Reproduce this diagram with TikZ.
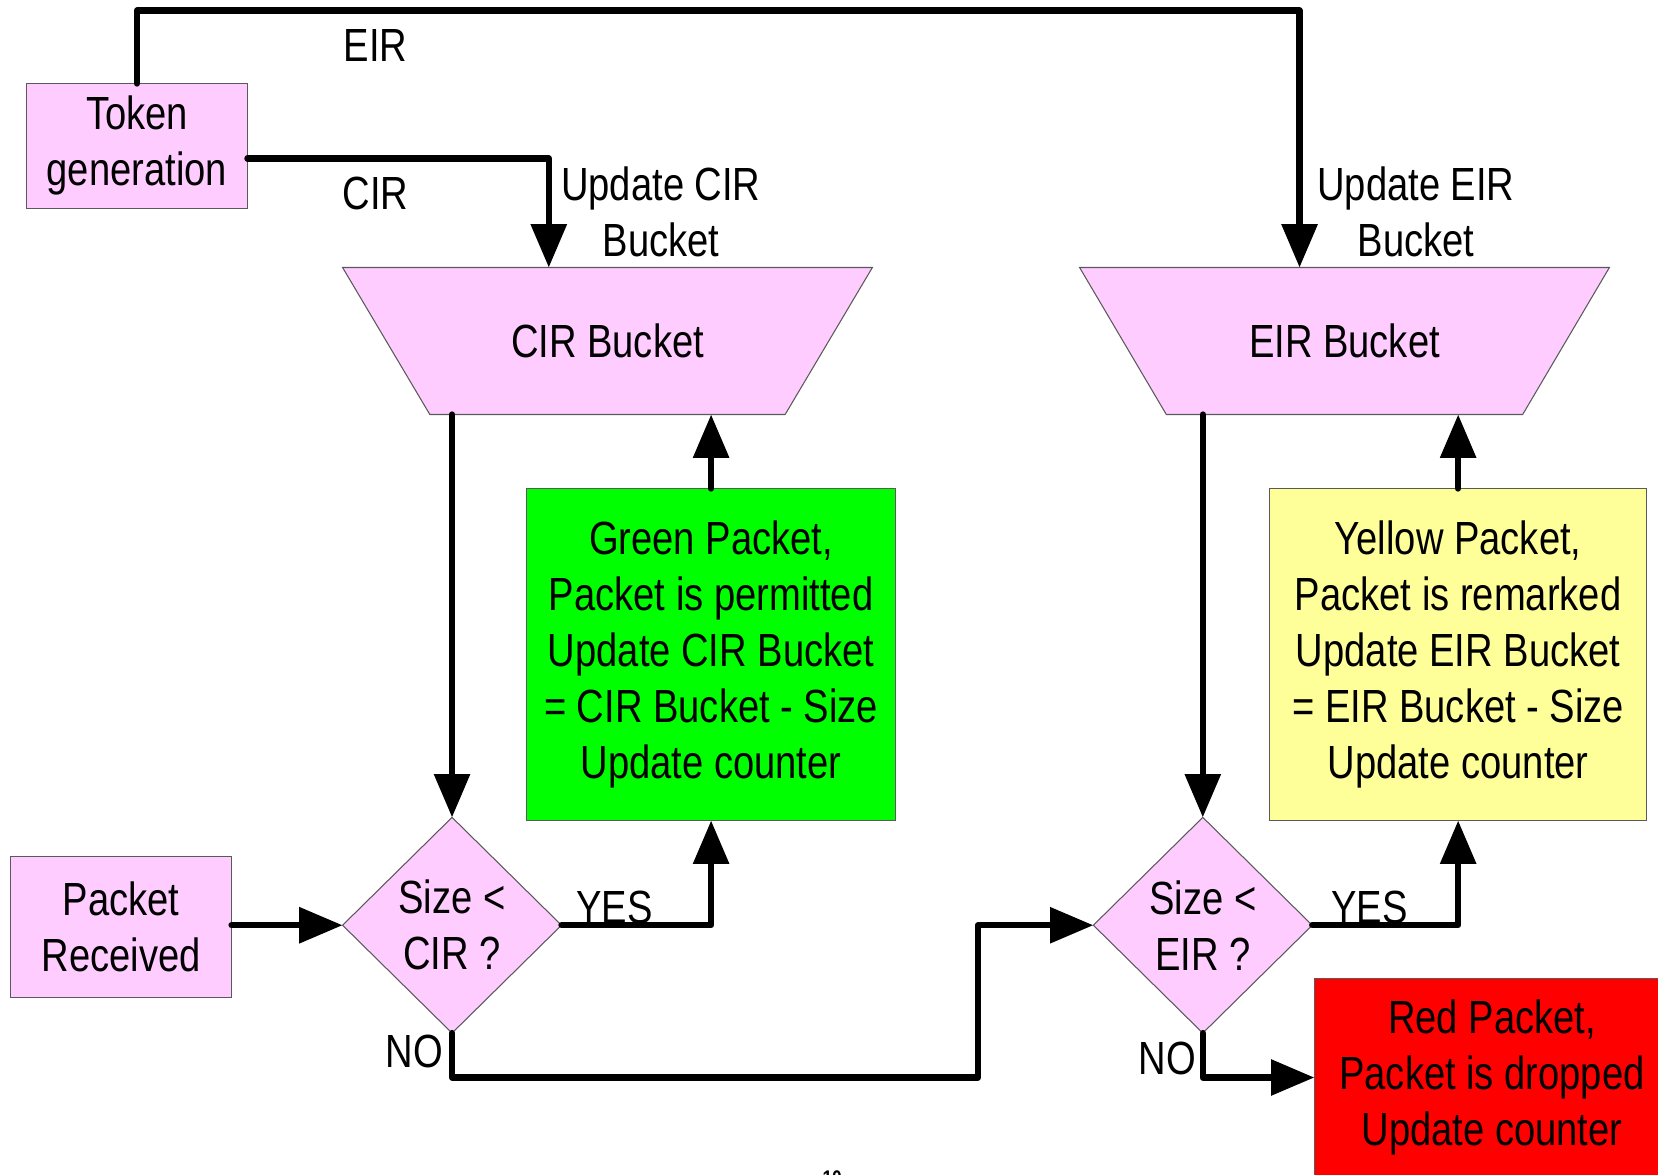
\documentclass[tikz,border=0pt]{standalone}
\usepackage{fontspec}
\setmainfont{Liberation Sans}[FakeStretch=0.82]
\usetikzlibrary{arrows.meta,calc,shapes.geometric}
\definecolor{pinkfill}{RGB}{255,204,255}
\definecolor{greenfill}{RGB}{0,255,0}
\definecolor{yellowfill}{RGB}{255,255,153}
\definecolor{redfill}{RGB}{255,0,0}
\definecolor{bordercol}{RGB}{90,90,90}
\begin{document}
\begin{tikzpicture}[x=1pt,y=-1pt,
  txt/.style={font=\fontsize{44}{53}\selectfont, align=center, inner sep=0pt},
  box/.style={draw=bordercol, line width=1pt, inner sep=0pt, outer sep=0pt, font=\fontsize{44}{53}\selectfont, align=center},
  shapebd/.style={draw=bordercol, line width=1pt},
  conn/.style={line width=6pt, line cap=round, line join=round},
  arr/.style={conn, -{Triangle[length=41pt,width=33pt]}},
]
\useasboundingbox (0,0) rectangle (1568,1111);
\clip (0,0) rectangle (1568,1111);

% boxes
\node[box, fill=pinkfill, minimum width=209pt, minimum height=118pt] (tok) at (129.5,138) {Token\\generation};
\node[box, fill=pinkfill, minimum width=209pt, minimum height=133pt] (pr) at (114.5,876.5) {Packet\\Received};
\node[box, fill=greenfill, minimum width=349pt, minimum height=314pt] (green) at (672.5,619) {Green Packet,\\Packet is permitted\\Update CIR Bucket\\= CIR Bucket - Size\\Update counter};
\node[box, fill=yellowfill, minimum width=356pt, minimum height=314pt] (yellow) at (1379,619) {Yellow Packet,\\Packet is remarked\\Update EIR Bucket\\= EIR Bucket - Size\\Update counter};
\node[box, fill=redfill, minimum width=336pt, minimum height=188pt] (red) at (1411,1019) {Red Packet,\\Packet is dropped\\Update counter};

% buckets
\node[minimum width=501pt, minimum height=139pt, inner sep=0pt, outer sep=0pt] (cirb) at (574.5,322.5) {};
\filldraw[shapebd, fill=pinkfill] (cirb.north west) -- (cirb.north east) -- ($(cirb.south east)+(-82.5,0)$) -- ($(cirb.south west)+(82.5,0)$) -- cycle;
\node[txt] (cirbt) at (cirb) {CIR Bucket};
\node[minimum width=501pt, minimum height=139pt, inner sep=0pt, outer sep=0pt] (eirb) at (1271.5,322.5) {};
\filldraw[shapebd, fill=pinkfill] (eirb.north west) -- (eirb.north east) -- ($(eirb.south east)+(-82,0)$) -- ($(eirb.south west)+(82,0)$) -- cycle;
\node[txt] (eirbt) at (eirb) {EIR Bucket};

% diamonds
\node[diamond, shapebd, fill=pinkfill, minimum width=207pt, minimum height=204pt, inner sep=0pt, outer sep=0pt] (d1) at (427.5,875) {};
\node[txt] (d1t) at (d1) {Size <\\CIR ?};
\node[diamond, shapebd, fill=pinkfill, minimum width=207pt, minimum height=204pt, inner sep=0pt, outer sep=0pt] (d2) at (1137.5,875) {};
\node[txt] (d2t) at (d2) {Size <\\EIR ?};

% helper coordinates
\coordinate (toprail) at (0,10);
\coordinate (eirin) at ($(eirb.north)+(-42.5,0)$);
\coordinate (cirin) at ($(cirb.north)+(-55.5,0)$);
\coordinate (tokout) at ($(tok.east)+(0,12)$);
\coordinate (nojog) at (925,1019);

% connectors
\draw[arr] (tok.north) |- (toprail -| eirin) -- (eirin);
\draw[arr] (tokout) -| (cirin);
\draw[arr] (cirb.south -| d1.north) -- (d1.north);
\draw[arr] (green.north) -- (cirb.south -| green.north);
\draw[arr] (pr.east |- d1.west) -- (d1.west);
\draw[arr] (d1.east) -| (green.south);
\draw[arr] (d1.south) |- (nojog) |- (d2.west);
\draw[arr] (eirb.south -| d2.north) -- (d2.north);
\draw[arr] (yellow.north) -- (eirb.south -| yellow.north);
\draw[arr] (d2.east) -| (yellow.south);
\draw[arr] (d2.south) |- (red.west);

% labels
\node[txt] (leir) at (355,43) {EIR};
\node[txt] (lcir) at (355,183) {CIR};
\node[txt] (lucir) at (625,200) {Update CIR\\Bucket};
\node[txt] (lueir) at (1339,200) {Update EIR\\Bucket};
\node[txt] (lyes1) at (581,858) {YES};
\node[txt] (lyes2) at (1295,858) {YES};
\node[txt] (lno1) at (392,994) {NO};
\node[txt] (lno2) at (1104,1001) {NO};
\node[font=\bfseries\fontsize{20}{24}\selectfont, anchor=north, inner sep=0pt] (pg) at (787,1106.5) {10};
\end{tikzpicture}
\end{document}
